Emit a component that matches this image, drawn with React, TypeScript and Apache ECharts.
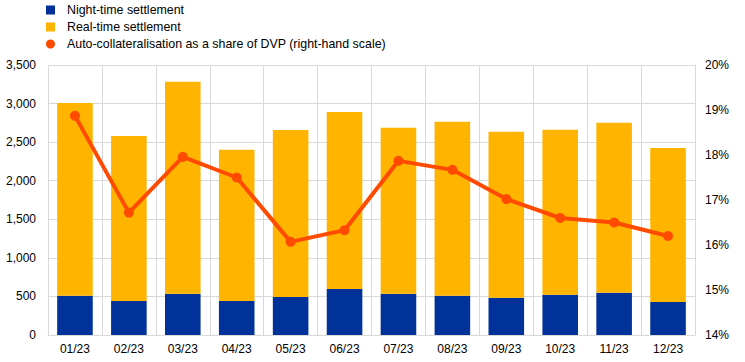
import React, { useEffect, useRef } from "react";
import * as echarts from "echarts";

const categories = ["01/23", "02/23", "03/23", "04/23", "05/23", "06/23", "07/23", "08/23", "09/23", "10/23", "11/23", "12/23"];
const nightTime = [510, 441, 535, 441, 493, 596, 535, 510, 482, 523, 549, 428];
const totals = [3008, 2580, 3284, 2400, 2657, 2891, 2687, 2765, 2636, 2662, 2752, 2424];
const realTime = totals.map((t, i) => t - nightTime[i]);
const autoCollShare = [18.87, 16.72, 17.96, 17.5, 16.07, 16.33, 17.87, 17.67, 17.02, 16.6, 16.5, 16.2];

const FONT = "Liberation Sans, Arial, sans-serif";

export default function App() {
  const ref = useRef<HTMLDivElement>(null);
  useEffect(() => {
    if (!ref.current) return;
    const chart = echarts.init(ref.current, null, { renderer: "svg" });
    chart.setOption({
      animation: false,
      textStyle: { fontFamily: FONT },
      legend: {
        orient: "vertical",
        left: 46,
        top: 3,
        padding: 0,
        itemGap: 3,
        itemWidth: 9,
        itemHeight: 9,
        textStyle: { fontFamily: FONT, fontSize: 12.4, color: "#000", lineHeight: 14, padding: [0, 0, 0, 7] },
        data: [
          { name: "Night-time settlement", icon: "rect" },
          { name: "Real-time settlement", icon: "rect" },
          { name: "Auto-collateralisation as a share of DVP (right-hand scale)", icon: "circle" },
        ],
      },
      grid: { left: 48, right: 50, top: 65, bottom: 27, containLabel: false },
      xAxis: {
        type: "category",
        data: categories,
        axisLine: { lineStyle: { color: "#d9d9d9" } },
        axisTick: { show: false },
        axisLabel: { color: "#000", fontSize: 12, fontFamily: FONT, margin: 8 },
        splitLine: { show: true, interval: 0, lineStyle: { color: "#d9d9d9" } },
      },
      yAxis: [
        {
          type: "value",
          min: 0,
          max: 3500,
          interval: 500,
          axisLine: { show: false },
          axisTick: { show: false },
          axisLabel: {
            color: "#000",
            fontSize: 12,
            fontFamily: FONT,
            margin: 12,
            formatter: (v: number) => v.toLocaleString("en-US"),
          },
          splitLine: { lineStyle: { color: "#d9d9d9" } },
        },
        {
          type: "value",
          min: 14,
          max: 20,
          interval: 1,
          axisLine: { show: true, lineStyle: { color: "#d9d9d9" } },
          axisTick: { show: false },
          axisLabel: { color: "#000", fontSize: 12, fontFamily: FONT, margin: 10, formatter: "{value}%" },
          splitLine: { show: false },
        },
      ],
      series: [
        {
          name: "Night-time settlement",
          type: "bar",
          stack: "total",
          data: nightTime,
          barWidth: "66%",
          itemStyle: { color: "#003299" },
        },
        {
          name: "Real-time settlement",
          type: "bar",
          stack: "total",
          data: realTime,
          barWidth: "66%",
          itemStyle: { color: "#FFB400" },
        },
        {
          name: "Auto-collateralisation as a share of DVP (right-hand scale)",
          type: "line",
          yAxisIndex: 1,
          data: autoCollShare,
          symbol: "circle",
          symbolSize: 10,
          lineStyle: { color: "#FF4B00", width: 4 },
          itemStyle: { color: "#FF4B00" },
        },
      ],
    });
    return () => chart.dispose();
  }, []);
  return <div ref={ref} style={{ width: 745, height: 362, position: "absolute", left: 0, top: 0 }} />;
}
